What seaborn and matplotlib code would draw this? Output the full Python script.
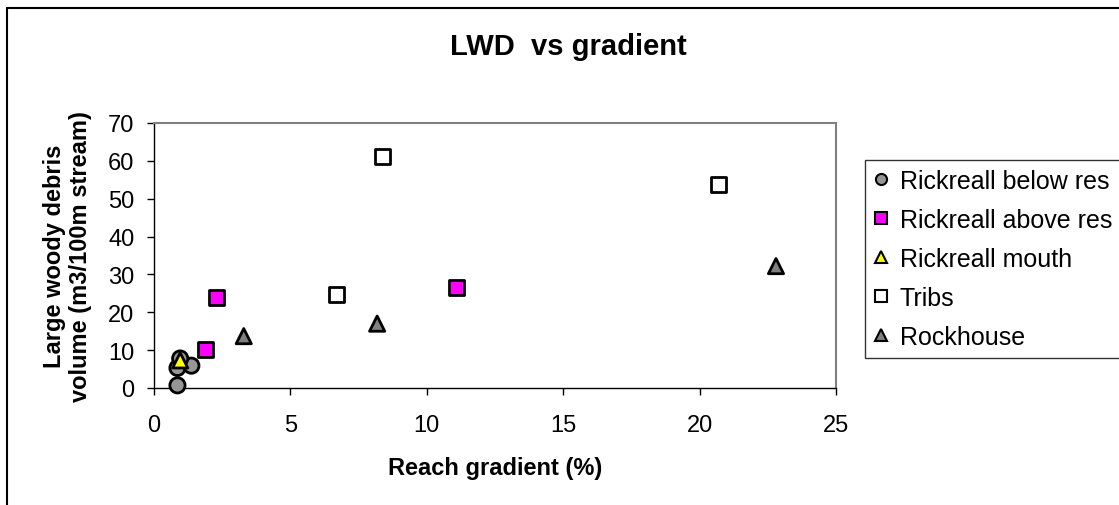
import matplotlib
matplotlib.use("Agg")
import matplotlib.pyplot as plt
import seaborn as sns
import pandas as pd
from matplotlib.lines import Line2D

# ---- data ----
below_x = [0.86, 0.86, 1.37, 0.96]
below_y = [0.7, 5.3, 5.9, 7.8]
above_x = [1.89, 2.28, 11.1]
above_y = [10.2, 23.9, 26.5]
mouth_x = [0.96]
mouth_y = [7.3]
tribs_x = [8.38, 6.69, 20.7]
tribs_y = [61.2, 24.8, 53.7]
rock_x = [3.29, 8.18, 22.8]
rock_y = [13.7, 17.0, 32.2]

series = ["Rickreall below res", "Rickreall above res", "Rickreall mouth", "Tribs", "Rockhouse"]
xs = [below_x, above_x, mouth_x, tribs_x, rock_x]
ys = [below_y, above_y, mouth_y, tribs_y, rock_y]
colors = {"Rickreall below res": "#969696", "Rickreall above res": "#FF00FF",
          "Rickreall mouth": "#FFFF00", "Tribs": "#FFFFFF", "Rockhouse": "#808080"}
markers = {"Rickreall below res": "o", "Rickreall above res": "s",
           "Rickreall mouth": "^", "Tribs": "s", "Rockhouse": "^"}
xticks = [0, 5, 10, 15, 20, 25]
yticks = [0, 10, 20, 30, 40, 50, 60, 70]

rows = []
for name, xx, yy in zip(series, xs, ys):
    for a, b in zip(xx, yy):
        rows.append({"x": a, "y": b, "series": name})
df = pd.DataFrame(rows)

sns.set_style("white")
plt.rcParams["font.family"] = ["Liberation Sans", "DejaVu Sans"]
plt.rcParams["text.color"] = "black"
plt.rcParams["axes.labelcolor"] = "black"
plt.rcParams["xtick.color"] = "black"
plt.rcParams["ytick.color"] = "black"

FS = 17
fig = plt.figure(figsize=(11.19, 5.06), dpi=100)
ax = fig.add_axes([154/1119, 1-389/506, (836-154)/1119, (389-124)/506])

sns.scatterplot(data=df, x="x", y="y", hue="series", style="series",
                palette=colors, markers=markers, hue_order=series, style_order=series,
                s=120, edgecolor="black", linewidth=2.0, ax=ax, legend=False, zorder=3,
                clip_on=False)

ax.set_xlim(0, 25)
ax.set_ylim(0, 70)
ax.set_xticks(xticks)
ax.set_yticks(yticks)
ax.tick_params(axis="both", labelsize=FS, direction="out", length=5, width=1,
               colors="black", labelcolor="black", left=True, bottom=True)
ax.tick_params(axis="y", pad=9)
ax.tick_params(axis="x", pad=14)
for side in ["top", "right"]:
    ax.spines[side].set_color("#808080")
    ax.spines[side].set_linewidth(1.5)
for side in ["left", "bottom"]:
    ax.spines[side].set_color("black")
    ax.spines[side].set_linewidth(1.0)

ax.set_xlabel("Reach gradient (%)", fontsize=FS, fontweight="bold", labelpad=14,
              color="black")
ax.set_ylabel("Large woody debris\nvolume (m3/100m stream)", fontsize=FS,
              fontweight="bold", labelpad=12, linespacing=1.15, color="black")

fig.text(568/1119, 1-47/506, "LWD  vs gradient", fontsize=21, fontweight="bold",
         ha="center", va="center", color="black")

handles = [Line2D([], [], linestyle="none", marker=markers[n], markerfacecolor=colors[n],
                  markeredgecolor="black", markeredgewidth=1.5, markersize=8)
           for n in series]
leg = fig.legend(handles, series, loc="upper left", bbox_to_anchor=(865/1119, 1-161/506),
                 frameon=True, fontsize=18, labelspacing=0.6, handlelength=0.6,
                 handletextpad=0.45, borderpad=0.35, borderaxespad=0, fancybox=False)
leg.get_frame().set_edgecolor("black")
leg.get_frame().set_linewidth(1.0)
for t in leg.get_texts():
    t.set_color("black")

# outer chart-area border
fig.add_artist(Line2D([7/1119, 7/1119], [0, 1-9/506], transform=fig.transFigure,
                      color="black", linewidth=1.5))
fig.add_artist(Line2D([7/1119, 1], [1-9/506, 1-9/506], transform=fig.transFigure,
                      color="black", linewidth=1.5))

fig.savefig("out.png", dpi=100)
